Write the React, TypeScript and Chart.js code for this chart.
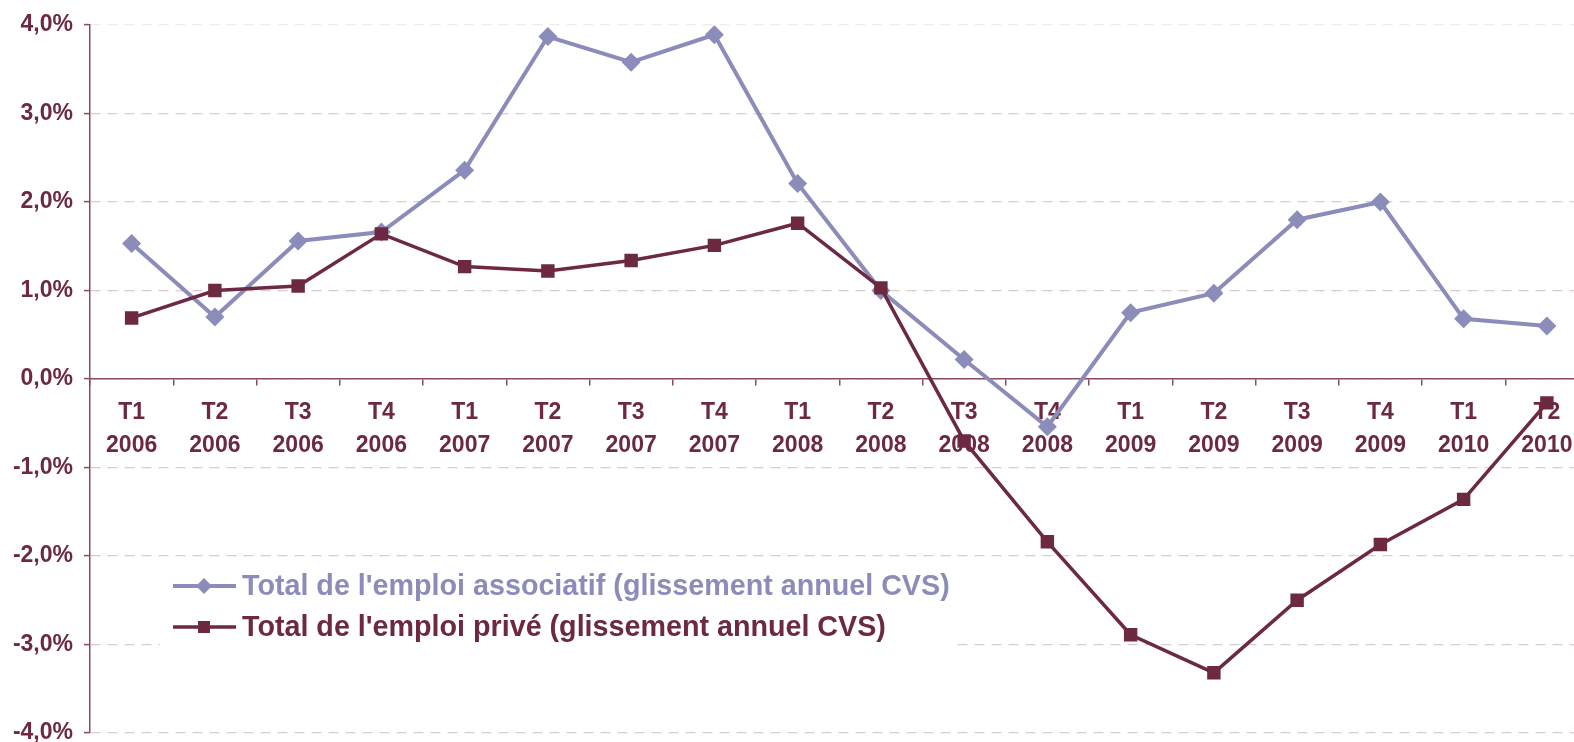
import React, { useEffect, useRef } from "react";
import { Chart, registerables } from "chart.js";

Chart.register(...registerables);

const quarters = ["T1", "T2", "T3", "T4", "T1", "T2", "T3", "T4", "T1", "T2", "T3", "T4", "T1", "T2", "T3", "T4", "T1", "T2"];
const years = ["2006", "2006", "2006", "2006", "2007", "2007", "2007", "2007", "2008", "2008", "2008", "2008", "2009", "2009", "2009", "2009", "2010", "2010"];

const associatif = [1.53, 0.70, 1.56, 1.66, 2.36, 3.87, 3.58, 3.89, 2.21, 1.00, 0.22, -0.54, 0.75, 0.97, 1.80, 2.00, 0.68, 0.60];
const prive = [0.69, 1.00, 1.05, 1.64, 1.27, 1.22, 1.34, 1.51, 1.76, 1.03, -0.70, -1.84, -2.89, -3.32, -2.50, -1.87, -1.36, -0.27];

const seriesNames = [
  "Total de l'emploi associatif (glissement annuel CVS)",
  "Total de l'emploi privé (glissement annuel CVS)",
];

const yMin = -4;
const yMax = 4;

const LAVENDER = "#8b8cba";
const MAROON = "#6c2941";
const TEXT = "#6c2941";
const AXIS = "#8a4a62";
const GRID = "#dccbd1";
const FONT = "'Liberation Sans', Arial, sans-serif";

const legendPlugin = {
  id: "insideLegend",
  afterDatasetsDraw(chart: any) {
    const ctx = chart.ctx;
    ctx.save();
    ctx.fillStyle = "#ffffff";
    ctx.fillRect(160, 562, 795, 90);
    const items = [
      { name: seriesNames[0], color: LAVENDER, width: 4, style: "diamond", y: 586 },
      { name: seriesNames[1], color: MAROON, width: 3.5, style: "square", y: 627 },
    ];
    items.forEach((it) => {
      ctx.strokeStyle = it.color;
      ctx.lineWidth = it.width;
      ctx.beginPath();
      ctx.moveTo(173, it.y);
      ctx.lineTo(236, it.y);
      ctx.stroke();
      ctx.fillStyle = it.color;
      ctx.beginPath();
      if (it.style === "diamond") {
        ctx.moveTo(204, it.y - 8);
        ctx.lineTo(212, it.y);
        ctx.lineTo(204, it.y + 8);
        ctx.lineTo(196, it.y);
        ctx.closePath();
      } else {
        ctx.rect(198, it.y - 6, 12, 12);
      }
      ctx.fill();
      ctx.font = `bold 28.7px ${FONT}`;
      ctx.textBaseline = "middle";
      ctx.textAlign = "left";
      ctx.fillText(it.name, 242, it.y + 1);
    });
    ctx.restore();
  },
};

export default function App() {
  const ref = useRef<HTMLCanvasElement>(null);

  useEffect(() => {
    if (!ref.current) return;
    const labels = quarters.map((q, i) => [q, years[i]]);
    const chart = new Chart(ref.current, {
      type: "line",
      data: {
        labels,
        datasets: [
          {
            label: seriesNames[0],
            data: associatif,
            borderColor: LAVENDER,
            backgroundColor: LAVENDER,
            borderWidth: 4,
            pointStyle: "rectRot",
            pointRadius: 9.5,
            pointBorderWidth: 0,
            pointBackgroundColor: LAVENDER,
            tension: 0,
            order: 1,
          },
          {
            label: seriesNames[1],
            data: prive,
            borderColor: MAROON,
            backgroundColor: MAROON,
            borderWidth: 3.5,
            pointStyle: "rect",
            pointRadius: 9.5,
            pointBorderWidth: 0,
            pointBackgroundColor: MAROON,
            tension: 0,
            order: 0,
          },
        ],
      },
      options: {
        animation: false,
        responsive: false,
        maintainAspectRatio: false,
        layout: { padding: { top: 25, right: 2, bottom: 27, left: 0 } },
        plugins: {
          legend: { display: false },
          tooltip: { enabled: false },
        },
        scales: {
          x: {
            type: "category",
            position: { y: 0 } as any,
            offset: true,
            grid: {
              display: true,
              drawOnChartArea: false,
              drawTicks: true,
              tickLength: 6,
              offset: true,
              color: AXIS,
              lineWidth: 1.5,
            },
            border: { display: true, color: AXIS, width: 1.5 },
            ticks: {
              color: TEXT,
              padding: 12,
              maxRotation: 0,
              autoSkip: false,
              font: { family: FONT, size: 23, weight: "bold", lineHeight: 1.4 },
            },
            afterFit(scale: any) {
              scale.height = 0;
            },
          },
          y: {
            min: yMin,
            max: yMax,
            ticks: {
              stepSize: 1,
              color: TEXT,
              padding: 11,
              font: { family: FONT, size: 23, weight: "bold" },
              callback: (v: any) => Number(v).toFixed(1).replace(".", ",") + "%",
            },
            grid: {
              color: (c: any) => (c.tick && c.tick.value === yMax ? "#f1eaec" : GRID),
              lineWidth: 1.2,
              drawTicks: true,
              tickLength: 6,
              tickColor: AXIS,
              tickWidth: 1.5,
              tickBorderDash: [],
            } as any,
            border: { display: true, color: AXIS, width: 1.5, dash: [10, 7] },
            afterFit(scale: any) {
              scale.width = 90;
            },
          },
        },
      },
      plugins: [legendPlugin],
    });
    return () => chart.destroy();
  }, []);

  return (
    <div
      style={{
        position: "absolute",
        left: 0,
        top: 0,
        width: 1574,
        height: 742,
        overflow: "hidden",
        background: "#ffffff",
      }}
    >
      <canvas ref={ref} width={1598} height={760} style={{ width: 1598, height: 760, display: "block" }} />
    </div>
  );
}
